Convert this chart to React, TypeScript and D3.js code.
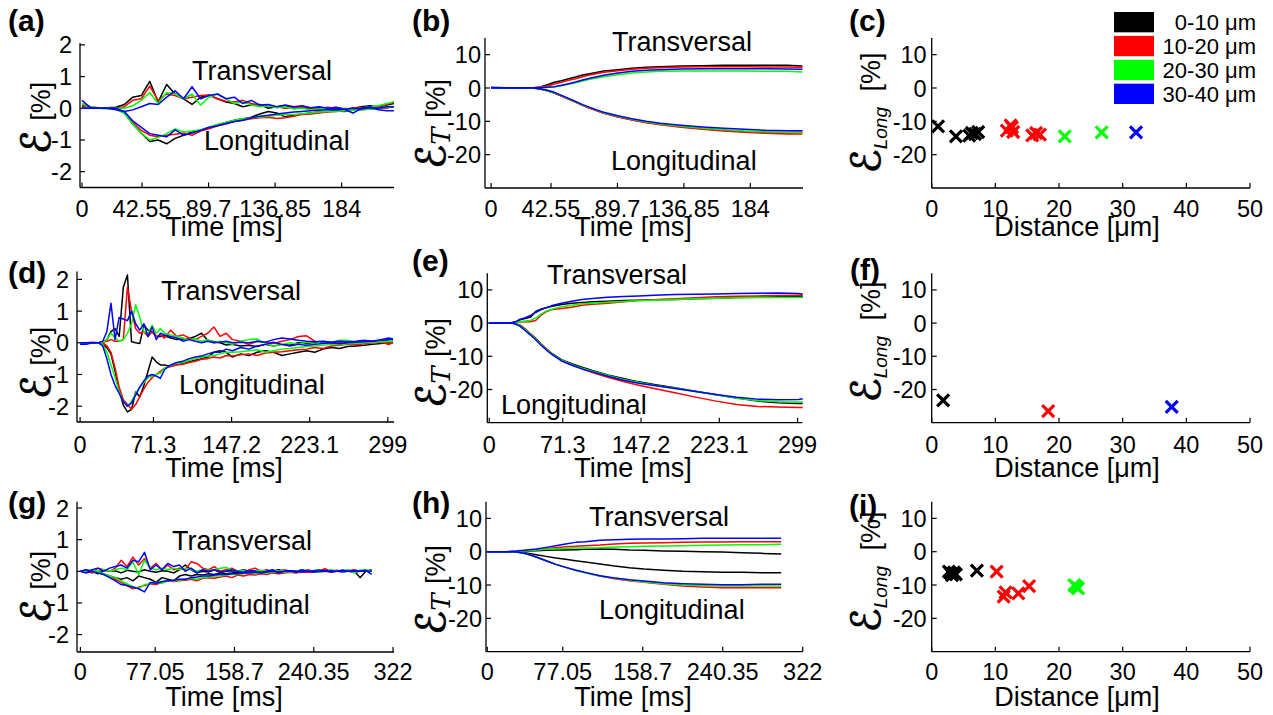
import React from "react";
import * as d3 from "d3";

const FONT = "'Liberation Sans', Arial, Helvetica, sans-serif";
const SERIF = "'DejaVu Serif', 'DejaVu Sans', serif";
const colors = ["#000000", "#ff0000", "#00ff00", "#0000ff"];
const binLabels = ["0-10 μm", "10-20 μm", "20-30 μm", "30-40 μm"];

// tick labels
const xTicksAB = ["0", "42.55", "89.7", "136.85", "184"];
const xTicksDE = ["0", "71.3", "147.2", "223.1", "299"];
const xTicksGH = ["0", "77.05", "158.7", "240.35", "322"];
const xTicksDist = ["0", "10", "20", "30", "40", "50"];
const yTicksSmall = ["2", "1", "0", "-1", "-2"];
const yTicksBig = ["10", "0", "-10", "-20"];

// ---- panel (a): strain rate, time in ms
const timeA = [0, 6, 12, 18, 24, 30, 36, 42, 48, 54, 60, 66, 72, 78, 84, 90, 96, 102, 108, 114, 120, 126, 132, 138, 144, 150, 156, 162, 168, 174, 180, 186, 192, 198, 204, 210, 216, 221];
const aTransK = [0.05, 0, 0, 0.02, 0.03, 0.12, 0.35, 0.4, 0.85, 0.2, 0.75, 0.45, 0.3, 0.12, 0.35, 0.42, 0.3, 0.2, 0.15, 0.05, 0.1, 0.12, 0, 0.05, 0.08, 0, 0.05, -0.03, 0.02, 0, 0.03, -0.02, 0, 0.05, 0.08, 0.05, 0.1, 0.15];
const aTransR = [0.1, 0.05, 0.02, 0, 0, 0.05, 0.25, 0.3, 0.7, 0.25, 0.45, 0.4, 0.3, 0.35, 0.4, 0.42, 0.3, 0.22, 0.2, 0.25, 0.15, 0.1, 0.08, 0.05, 0, 0.02, 0.05, 0, -0.02, 0.03, 0, -0.03, 0, 0.02, 0.05, 0.05, 0.12, 0.2];
const aTransG = [0.15, 0.05, 0, -0.02, 0, 0, 0.08, 0.25, 0.5, 0.15, 0.5, 0.45, 0.3, 0.45, 0.1, 0.35, 0.45, 0.3, 0.15, 0.2, 0.1, 0.05, 0.08, 0.02, 0.05, -0.02, 0, -0.05, -0.02, 0, -0.05, 0, -0.03, 0, 0.05, 0.08, 0.15, 0.2];
const aTransB = [0.25, 0.02, 0, 0, -0.05, -0.1, -0.05, 0.05, 0.15, 0.12, 0.35, 0.55, 0.3, 0.68, 0.3, 0.4, 0.45, 0.3, 0.35, 0.15, 0.25, 0.1, 0.12, 0.05, 0.1, 0.05, 0.08, 0.02, 0.05, 0, 0.02, -0.03, -0.15, 0, 0.05, -0.05, -0.08, -0.08];
const aLongK = [0, 0, 0, 0, -0.02, -0.15, -0.5, -0.78, -1.05, -1.0, -1.12, -0.95, -0.85, -0.75, -0.7, -0.62, -0.55, -0.45, -0.38, -0.33, -0.28, -0.18, -0.1, -0.15, -0.27, -0.22, -0.18, -0.15, -0.12, -0.1, -0.08, -0.1, -0.05, -0.03, -0.02, 0, 0.02, 0.05];
const aLongR = [0, 0, 0, 0, -0.02, -0.12, -0.45, -0.7, -0.85, -0.9, -0.85, -0.82, -0.78, -0.85, -0.72, -0.65, -0.55, -0.5, -0.42, -0.38, -0.33, -0.3, -0.28, -0.32, -0.3, -0.25, -0.2, -0.18, -0.15, -0.12, -0.1, -0.08, -0.05, -0.05, -0.02, 0, 0.02, 0.05];
const aLongG = [0, 0, 0, 0, -0.03, -0.15, -0.5, -0.78, -1.0, -0.92, -0.8, -0.65, -0.75, -0.72, -0.68, -0.6, -0.5, -0.45, -0.38, -0.33, -0.3, -0.28, -0.25, -0.22, -0.2, -0.2, -0.17, -0.15, -0.12, -0.1, -0.1, -0.08, -0.06, -0.05, -0.03, 0, 0.03, 0.05];
const aLongB = [0, 0, 0, 0, 0, -0.1, -0.4, -0.6, -0.8, -0.85, -0.9, -0.68, -0.85, -0.78, -0.7, -0.6, -0.55, -0.48, -0.42, -0.38, -0.3, -0.25, -0.22, -0.18, -0.15, -0.12, -0.1, -0.08, -0.06, -0.05, -0.05, -0.03, 0, -0.02, 0.02, 0, 0.05, 0.05];

// ---- panel (b): cumulative strain
const timeB = [0, 10, 20, 30, 35, 40, 45, 50, 55, 60, 65, 70, 80, 90, 100, 110, 120, 135, 150, 165, 180, 195, 210, 221];
const bTransK = [0, 0, 0, 0.1, 0.3, 1.0, 1.7, 2.2, 2.8, 3.3, 3.9, 4.3, 5.1, 5.5, 5.9, 6.2, 6.4, 6.6, 6.7, 6.8, 6.8, 6.8, 6.8, 6.6];
const bTransR = [0, 0, 0, 0.05, 0.2, 0.6, 1.2, 1.7, 2.3, 2.8, 3.4, 3.9, 4.7, 5.2, 5.6, 5.9, 6.1, 6.3, 6.4, 6.4, 6.4, 6.3, 6.3, 6.2];
const bTransG = [0, 0, 0, 0.05, 0.1, 0.2, 0.4, 0.7, 1.1, 1.6, 2.1, 2.6, 3.4, 4.0, 4.5, 4.8, 5.0, 5.1, 5.1, 5.1, 5.1, 5.0, 5.0, 4.8];
const bTransB = [0.2, 0.1, 0.1, 0.05, 0.1, 0.2, 0.4, 0.8, 1.3, 1.8, 2.4, 2.9, 3.8, 4.5, 5.0, 5.3, 5.5, 5.7, 5.8, 5.8, 5.8, 5.8, 5.7, 5.6];
const bLongK = [0, 0, 0, 0, -0.3, -0.8, -1.5, -2.4, -3.3, -4.2, -5.2, -6.0, -7.5, -8.6, -9.5, -10.3, -10.9, -11.6, -12.2, -12.7, -13.1, -13.3, -13.4, -13.3];
const bLongR = [0, 0, 0, 0, -0.3, -0.8, -1.5, -2.4, -3.3, -4.2, -5.2, -6.1, -7.6, -8.7, -9.6, -10.4, -11.0, -11.8, -12.4, -12.9, -13.3, -13.6, -13.8, -13.8];
const bLongG = [0, 0, 0, 0, -0.3, -0.8, -1.4, -2.3, -3.2, -4.1, -5.1, -5.9, -7.4, -8.5, -9.4, -10.2, -10.8, -11.5, -12.1, -12.5, -12.9, -13.2, -13.3, -13.3];
const bLongB = [0, 0, 0, 0, -0.3, -0.7, -1.3, -2.2, -3.1, -4.0, -5.0, -5.8, -7.3, -8.3, -9.2, -10.0, -10.6, -11.2, -11.7, -12.1, -12.4, -12.7, -12.8, -12.8];

// ---- panel (d)
const timeD = [0, 6, 12, 18, 22, 26, 30, 34, 38, 42, 46, 50, 54, 58, 62, 66, 70, 74, 78, 82, 88, 94, 100, 106, 112, 118, 124, 130, 136, 142, 148, 156, 164, 172, 180, 188, 196, 204, 212, 220, 228, 236, 244, 252, 260, 268, 276, 284, 292, 300, 304];
const dTransK = [0, 0, 0, 0, 0.02, 0.1, 0.35, 0.45, 0.2, 1.75, 2.14, 0.03, 0, -0.02, 0.56, 0.4, 0.35, 0.2, 0.2, 0.22, 0.15, 0.1, 0.12, 0.14, 0.2, 0.3, 0.08, 0.03, 0, -0.07, -0.05, -0.1, -0.08, -0.12, -0.05, -0.1, -0.05, -0.08, 0, -0.02, 0, 0.03, 0, -0.02, 0.02, 0, 0.03, 0.05, 0.05, 0.1, 0.1];
const dTransR = [0, 0, 0.02, 0, 0.02, 0.05, 0.1, 0.05, 0.05, 0.1, 1.75, 1.0, 0.45, 0.3, 0.35, 0.2, 0.35, 0.2, 0.25, 0.15, 0.4, 0.2, 0.25, 0.15, 0.1, 0.2, 0.3, 0.5, 0.2, 0.3, 0.1, 0.05, -0.05, 0.05, 0.02, -0.02, 0.05, 0.1, 0.2, 0.22, 0.05, 0, 0.02, 0, 0.03, 0.02, 0.05, 0, 0.05, -0.05, 0.05];
const dTransG = [0, 0, 0, 0, 0.02, 0.1, 0.3, 0.15, 0.05, 0.1, 0.3, 0.6, 1.2, 0.8, 0.35, 0.3, 0.55, 0.3, 0.45, 0.3, 0.25, 0.2, 0.15, 0.1, 0.12, 0.05, 0.1, 0, 0.05, 0, -0.05, 0.05, 0.1, 0.12, -0.02, -0.1, -0.05, 0, -0.05, 0.02, -0.02, 0.05, 0.02, 0.08, 0.08, 0.02, 0.05, 0.02, 0.05, 0.03, 0.05];
const dTransB = [-0.05, -0.05, 0, 0, 0.05, 0.35, 1.25, 0.1, 0.8, 0.75, 0.7, 1.0, 0.6, 0.4, 0.6, 0.2, 0.5, 0.1, 0.3, 0.25, 0.2, 0.15, 0.05, 0.1, 0.05, 0, 0.05, 0, 0.02, 0.05, 0, 0.02, 0, 0.05, 0.02, 0.1, 0.15, 0.12, 0.08, 0.05, 0.03, 0.05, 0.02, 0.05, 0.03, 0.05, 0.08, 0.05, 0.1, 0.15, 0.12];
const dLongK = [0, 0, 0, 0, -0.05, -0.15, -0.35, -0.9, -1.5, -1.97, -2.18, -2.1, -1.55, -1.7, -1.35, -0.9, -0.45, -0.6, -0.7, -0.7, -0.75, -0.68, -0.65, -0.6, -0.55, -0.5, -0.45, -0.3, -0.25, -0.3, -0.45, -0.35, -0.4, -0.3, -0.25, -0.3, -0.4, -0.35, -0.3, -0.25, -0.3, -0.2, -0.15, -0.18, -0.12, -0.1, -0.08, -0.05, -0.02, 0, 0];
const dLongR = [0, 0, 0, 0, 0, -0.1, -0.3, -0.8, -1.4, -1.8, -1.95, -2.1, -1.95, -1.7, -1.45, -1.25, -1.1, -1.0, -0.9, -0.8, -0.75, -0.7, -0.68, -0.62, -0.58, -0.52, -0.5, -0.45, -0.48, -0.4, -0.42, -0.38, -0.35, -0.4, -0.32, -0.3, -0.28, -0.25, -0.22, -0.2, -0.15, -0.18, -0.1, -0.08, -0.05, -0.06, -0.03, 0, 0.02, -0.05, 0];
const dLongG = [0, 0, 0, 0, -0.05, -0.3, -0.7, -1.1, -1.55, -1.85, -2.0, -1.85, -1.6, -1.4, -1.25, -1.1, -1.05, -1.0, -0.95, -0.8, -0.72, -0.65, -0.62, -0.55, -0.5, -0.45, -0.42, -0.4, -0.35, -0.3, -0.3, -0.28, -0.25, -0.22, -0.3, -0.25, -0.2, -0.18, -0.15, -0.12, -0.1, -0.08, -0.05, -0.06, -0.03, -0.02, 0, 0.02, 0.03, 0.05, 0.05];
const dLongB = [0, 0, 0, 0, -0.1, -0.5, -1.0, -1.35, -1.6, -1.85, -2.0, -1.9, -1.65, -1.4, -1.2, -1.05, -1.0, -1.05, -1.12, -0.85, -0.7, -0.62, -0.58, -0.5, -0.45, -0.42, -0.35, -0.3, -0.3, -0.2, -0.25, -0.15, -0.2, -0.1, -0.05, 0.02, -0.05, -0.1, -0.05, -0.08, -0.05, -0.02, 0, -0.03, 0, 0.02, 0.03, 0.05, 0.08, 0.1, 0.1];

// ---- panel (e)
const timeE = [0, 10, 20, 25, 30, 35, 40, 45, 50, 55, 60, 70, 80, 90, 100, 115, 130, 145, 160, 180, 200, 220, 240, 260, 280, 300, 304];
const eTransK = [0, 0, 0, 0.3, 1.0, 1.4, 1.8, 3.5, 4.2, 4.6, 5.0, 5.6, 6.0, 6.2, 6.4, 6.6, 6.8, 6.9, 7.0, 7.1, 7.3, 7.5, 7.7, 7.8, 7.9, 7.9, 7.9];
const eTransR = [0, 0, 0, 0.1, 0.3, 0.4, 0.4, 0.8, 2.3, 3.4, 4.0, 4.4, 4.8, 5.4, 5.7, 6.0, 6.4, 6.8, 7.0, 7.3, 7.6, 7.9, 8.1, 8.2, 8.3, 8.4, 8.4];
const eTransG = [0, 0, 0, 0.1, 0.4, 0.6, 0.8, 1.5, 2.6, 3.6, 4.1, 4.9, 5.4, 5.8, 6.0, 6.3, 6.5, 6.7, 6.9, 7.1, 7.3, 7.5, 7.6, 7.7, 7.7, 7.7, 7.7];
const eTransB = [0, 0, 0, 0.3, 1.2, 1.6, 2.3, 3.2, 4.0, 4.6, 5.2, 6.0, 6.6, 7.1, 7.4, 7.8, 8.0, 8.2, 8.4, 8.6, 8.7, 8.8, 8.9, 9.0, 9.1, 8.9, 8.7];
const eLongK = [0, 0, 0, -0.1, -0.6, -1.8, -3.2, -4.6, -6.2, -7.6, -9.0, -11.0, -12.2, -13.3, -14.3, -15.6, -16.7, -17.7, -18.5, -19.5, -20.5, -21.6, -22.6, -23.5, -24.0, -24.2, -24.2];
const eLongR = [0, 0, 0, -0.1, -0.7, -1.9, -3.3, -4.7, -6.3, -7.7, -9.1, -11.2, -12.6, -13.8, -14.9, -16.3, -17.6, -18.7, -19.7, -21.0, -22.3, -23.5, -24.5, -25.1, -25.3, -25.4, -25.4];
const eLongG = [0, 0, 0, -0.1, -0.8, -2.0, -3.4, -4.8, -6.4, -7.8, -9.1, -11.2, -12.5, -13.6, -14.5, -15.8, -17.0, -17.9, -18.7, -19.6, -20.6, -21.6, -22.6, -23.3, -23.7, -23.8, -23.8];
const eLongB = [0, 0, 0, -0.2, -1.0, -2.3, -3.6, -5.0, -6.6, -8.0, -9.3, -11.4, -12.7, -13.8, -14.7, -16.0, -17.2, -18.1, -18.8, -19.7, -20.6, -21.5, -22.3, -22.9, -23.1, -23.0, -22.8];

// ---- panel (g)
const timeG = [0, 6, 12, 18, 24, 30, 36, 42, 48, 54, 60, 66, 72, 78, 84, 90, 96, 102, 108, 114, 120, 126, 132, 138, 144, 150, 156, 162, 168, 174, 180, 186, 192, 198, 204, 210, 216, 222, 228, 234, 240, 246, 252, 258, 264, 270, 276, 282, 288, 294, 300];
const gTransK = [0, -0.05, 0, -0.08, 0.03, 0, 0.02, -0.05, 0.03, 0, -0.02, 0.05, 0, -0.03, 0.02, 0, -0.05, 0.05, 0.2, 0.05, -0.05, 0, -0.02, 0.05, -0.03, 0, 0.02, 0, 0.05, 0, 0.02, -0.02, 0.03, 0, 0.05, 0, 0.02, 0, 0.03, -0.02, 0.02, 0.05, 0, 0.02, 0, 0.03, 0, 0.02, -0.2, 0, 0.05];
const gTransR = [0, 0.05, -0.05, 0.1, 0.05, 0, 0.1, 0.35, 0.15, 0.45, 0.2, 0.4, 0.1, 0.25, 0.05, 0.2, 0.05, 0.1, 0.05, 0.3, 0.25, 0.1, 0.05, 0.15, 0, 0.05, 0.1, 0, -0.05, 0.05, 0.1, 0, 0.05, -0.05, 0, 0.05, 0, 0.02, -0.03, 0.05, 0, 0.02, 0.08, 0, 0.03, 0, 0.02, 0.05, 0, 0.02, 0];
const gTransG = [0, 0, 0.05, 0, 0.05, 0, 0.05, 0.1, 0.05, 0.3, -0.1, 0.35, 0.1, 0.05, 0.1, 0.05, 0.1, 0.05, 0.1, 0.05, 0, 0.05, 0.03, 0.05, 0.1, 0.12, 0.05, 0, 0.03, -0.05, 0, 0.03, 0, 0.05, 0, 0.03, -0.02, 0, 0.05, 0.02, 0, 0.03, 0, 0.05, 0, 0.02, 0.05, -0.05, 0.03, 0.05, 0];
const gTransB = [0, -0.05, 0.05, 0.1, 0, 0.1, 0.15, 0.2, 0.1, 0.35, 0.3, 0.6, 0.05, 0.2, 0.05, 0.25, 0.15, 0.2, 0, 0.1, -0.05, 0.05, 0, 0.05, -0.02, 0, 0.05, 0, -0.03, 0.02, 0, -0.05, 0, 0.05, -0.05, 0, 0.02, -0.03, 0.05, 0, -0.02, 0, 0.03, -0.02, 0, 0.03, 0, 0.02, 0, 0.03, -0.1];
const gLongK = [0, 0, -0.05, 0, -0.08, -0.15, -0.2, -0.25, -0.2, -0.3, -0.15, -0.2, -0.25, -0.35, -0.2, -0.25, -0.3, -0.15, -0.1, -0.15, -0.1, -0.12, -0.08, -0.1, -0.05, -0.08, -0.05, -0.03, -0.05, -0.02, -0.03, 0, -0.02, 0, -0.03, 0, -0.02, 0, 0.02, 0, -0.02, 0, 0.02, 0, 0, 0.02, 0, -0.02, 0, 0.02, 0];
const gLongR = [0, 0, 0, -0.05, -0.1, -0.15, -0.25, -0.35, -0.45, -0.55, -0.5, -0.45, -0.4, -0.42, -0.35, -0.3, -0.32, -0.3, -0.28, -0.25, -0.3, -0.22, -0.2, -0.22, -0.18, -0.15, -0.2, -0.12, -0.15, -0.1, -0.12, -0.08, -0.1, -0.05, -0.08, -0.05, -0.03, -0.05, -0.02, -0.03, 0, -0.02, 0, -0.03, 0, 0.02, 0, -0.02, 0, 0.02, 0];
const gLongG = [0, 0, 0, -0.03, -0.08, -0.15, -0.2, -0.3, -0.4, -0.48, -0.55, -0.42, -0.4, -0.35, -0.38, -0.3, -0.3, -0.28, -0.25, -0.22, -0.25, -0.2, -0.18, -0.15, -0.15, -0.12, -0.1, -0.1, -0.08, -0.05, -0.08, -0.05, -0.05, -0.03, -0.02, -0.03, 0, -0.02, 0, 0.02, 0, -0.02, 0, 0.02, 0, 0, 0.02, 0, 0.03, 0, 0.02];
const gLongB = [0, 0.05, 0, -0.05, -0.1, -0.2, -0.3, -0.42, -0.45, -0.5, -0.55, -0.65, -0.35, -0.38, -0.32, -0.3, -0.28, -0.25, -0.25, -0.2, -0.18, -0.15, -0.15, -0.12, -0.1, -0.1, -0.08, -0.08, -0.05, -0.05, -0.03, -0.05, -0.02, 0, -0.02, 0, 0.02, 0, -0.02, 0, 0.02, 0, 0, 0.02, 0, -0.02, 0, 0.02, 0, 0, 0];

// ---- panel (h)
const timeH = [0, 10, 20, 30, 40, 50, 60, 70, 80, 90, 100, 115, 130, 145, 160, 180, 200, 220, 240, 260, 280, 300];
const hTransK = [0, 0, 0, 0.05, 0.2, 0.3, 0.4, 0.5, 0.5, 0.6, 0.7, 0.8, 0.7, 0.5, 0.4, 0.2, 0.1, 0, -0.1, -0.3, -0.5, -0.7];
const hTransR = [0, 0, 0, 0.1, 0.3, 0.6, 0.9, 1.2, 1.5, 1.6, 1.8, 2.0, 2.3, 2.5, 2.6, 2.7, 2.8, 2.9, 2.9, 3.0, 3.0, 3.0];
const hTransG = [0, 0, 0, 0.1, 0.3, 0.5, 0.7, 0.9, 1.0, 1.1, 1.1, 1.2, 1.4, 1.5, 1.6, 1.7, 1.8, 1.9, 2.0, 2.1, 2.1, 2.2];
const hTransB = [0, 0, 0, 0.2, 0.5, 0.8, 1.3, 1.8, 2.3, 2.8, 3.0, 3.4, 3.6, 3.7, 3.8, 3.8, 3.9, 4.0, 4.0, 4.0, 4.0, 4.0];
const hLongK = [0, 0, 0, -0.1, -0.4, -0.9, -1.4, -1.9, -2.3, -2.7, -3.1, -3.7, -4.3, -4.8, -5.2, -5.6, -5.9, -6.0, -6.2, -6.2, -6.3, -6.3];
const hLongR = [0, 0, 0, -0.1, -0.6, -1.6, -2.7, -3.8, -4.7, -5.6, -6.3, -7.3, -8.1, -8.7, -9.2, -9.8, -10.3, -10.6, -10.8, -10.8, -10.8, -10.8];
const hLongG = [0, 0, 0, -0.1, -0.6, -1.6, -2.7, -3.8, -4.7, -5.6, -6.3, -7.3, -8.0, -8.6, -9.1, -9.6, -10.0, -10.2, -10.3, -10.3, -10.3, -10.3];
const hLongB = [0, 0, 0, -0.1, -0.6, -1.6, -2.7, -3.8, -4.7, -5.5, -6.2, -7.2, -7.9, -8.4, -8.8, -9.3, -9.6, -9.8, -9.9, -9.9, -9.8, -9.8];

// ---- scatter panels: distance [µm] vs longitudinal strain [%]
const cDist = [1.0, 3.8, 5.9, 6.3, 6.8, 7.3, 11.8, 12.4, 12.8, 12.6, 15.8, 16.4, 17.0, 20.9, 26.7, 32.1];
const cStrain = [-11.5, -14.5, -14.3, -13.5, -13.8, -13.2, -12.8, -11.2, -13.2, -11.8, -14.2, -13.5, -14.0, -14.5, -13.3, -13.3];
const fDist = [1.8, 18.3, 37.7];
const fStrain = [-23.3, -26.5, -25.2];
const iDist = [2.7, 3.2, 3.5, 3.8, 3.0, 7.1, 10.2, 11.3, 11.6, 13.6, 15.3, 22.4, 22.7, 23.0];
const iStrain = [-6.0, -7.0, -6.2, -6.8, -6.5, -5.7, -6.0, -13.5, -12.2, -12.5, -10.3, -10.0, -10.5, -11.0];

const TICK_FS = 23.5;
const TEXT_FS = 27;

const linePanels = [
  { id: "(a)", lab: [8, 31], x0: 80, x1: 394, yTop: 43, yBot: 187.5, xDom: [-1.4, 221.1], yDom: [-2.5, 2.06], xTicks: xTicksAB, yTicks: yTicksSmall, time: timeA, trans: [aTransK, aTransR, aTransG, aTransB], long: [aLongK, aLongR, aLongG, aLongB], tPos: [192, 80], lPos: [204, 150], tickBase: 217, titleBase: 236, titleX: 224, yLab: [50, 118], sub: "", gap: 8 },
  { id: "(b)", lab: [412, 31], x0: 485, x1: 803, yTop: 38, yBot: 188, xDom: [-4.3, 221.4], yDom: [-30, 15], xTicks: xTicksAB, yTicks: yTicksBig, time: timeB, trans: [bTransK, bTransR, bTransG, bTransB], long: [bLongK, bLongR, bLongG, bLongB], tPos: [612, 51], lPos: [611, 170], tickBase: 217, titleBase: 236, titleX: 633, yLab: [445, 124], sub: "T", gap: 4 },
  { id: "(d)", lab: [8, 283], x0: 77, x1: 394, yTop: 271.5, yBot: 422, xDom: [-3, 305], yDom: [-2.5, 2.25], xTicks: xTicksDE, yTicks: yTicksSmall, time: timeD, trans: [dTransK, dTransR, dTransG, dTransB], long: [dLongK, dLongR, dLongG, dLongB], tPos: [161, 300], lPos: [179, 393.5], tickBase: 453, titleBase: 477, titleX: 224, yLab: [50, 363], sub: "", gap: 8 },
  { id: "(e)", lab: [412, 271], x0: 487.3, x1: 802.3, yTop: 273.3, yBot: 422.7, xDom: [-1.9, 303.6], yDom: [-30, 15], xTicks: xTicksDE, yTicks: yTicksBig, time: timeE, trans: [eTransK, eTransR, eTransG, eTransB], long: [eLongK, eLongR, eLongG, eLongB], tPos: [547, 283.5], lPos: [501, 413.5], tickBase: 453, titleBase: 477, titleX: 633, yLab: [445, 363], sub: "T", gap: 4 },
  { id: "(g)", lab: [8, 513], x0: 77, x1: 394, yTop: 501.7, yBot: 652, xDom: [-3.5, 323], yDom: [-2.55, 2.2], xTicks: xTicksGH, yTicks: yTicksSmall, time: timeG, trans: [gTransK, gTransR, gTransG, gTransB], long: [gLongK, gLongR, gLongG, gLongB], tPos: [172, 550], lPos: [164, 613.5], tickBase: 680, titleBase: 706, titleX: 224, yLab: [50, 587], sub: "", gap: 8 },
  { id: "(h)", lab: [412, 513], x0: 486, x1: 802.7, yTop: 501.7, yBot: 651.7, xDom: [-1.3, 322], yDom: [-30, 15], xTicks: xTicksGH, yTicks: yTicksBig, time: timeH, trans: [hTransK, hTransR, hTransG, hTransB], long: [hLongK, hLongR, hLongG, hLongB], tPos: [589, 526], lPos: [599, 618.5], tickBase: 680, titleBase: 706, titleX: 633, yLab: [445, 590], sub: "T", gap: 4 },
];

const scatterPanels = [
  { id: "(c)", lab: [849, 31], yTop: 38, yBot: 188, dist: cDist, strain: cStrain, tickBase: 217, titleBase: 236, yLab: [880, 113], legend: true },
  { id: "(f)", lab: [850, 280], yTop: 273.3, yBot: 422.7, dist: fDist, strain: fStrain, tickBase: 453, titleBase: 477, yLab: [880, 342], legend: false },
  { id: "(i)", lab: [849, 516], yTop: 501.7, yBot: 651.7, dist: iDist, strain: iStrain, tickBase: 680, titleBase: 706, yLab: [880, 572], legend: false },
];

const YLabel = ({ x, y, sub }: { x: number; y: number; sub: string }) => (
  <text transform={`translate(${x},${y}) rotate(-90)`} textAnchor="middle" fontFamily={FONT} fontSize={TEXT_FS}>
    <tspan fontFamily={SERIF} fontSize={40} stroke="#000" strokeWidth={0.9}>ℰ</tspan>
    {sub === "T" && (
      <tspan fontFamily={SERIF} fontStyle="italic" fontSize={26} dy={5}>T</tspan>
    )}
    {sub === "Long" && (
      <tspan fontStyle="italic" fontSize={19} dy={7}>Long</tspan>
    )}
    <tspan dy={sub ? (sub === "T" ? -5 : -7) : 0} dx={sub === "Long" ? 8 : 2}> [%]</tspan>
  </text>
);

const Axes = ({ x, y, xTicks, yTicks, tickBase, gap }: any) => {
  const [x0, x1] = x.range();
  const [yBot, yTop] = y.range();
  return (
    <g>
      <line x1={x0} x2={x1} y1={yBot} y2={yBot} stroke="#000" strokeWidth={1.3} />
      <line x1={x0} x2={x0} y1={yBot} y2={yTop} stroke="#000" strokeWidth={1.3} />
      {xTicks.map((t: string) => (
        <g key={"x" + t}>
          <line x1={x(+t)} x2={x(+t)} y1={yBot} y2={yBot - 5} stroke="#000" strokeWidth={1.2} />
          <text x={x(+t)} y={tickBase} textAnchor="middle" fontSize={TICK_FS} fontFamily={FONT}>{t}</text>
        </g>
      ))}
      {yTicks.map((t: string) => (
        <g key={"y" + t}>
          <line x1={x0} x2={x0 + 5} y1={y(+t)} y2={y(+t)} stroke="#000" strokeWidth={1.2} />
          <text x={x0 - gap} y={y(+t) + 8.5} textAnchor="end" fontSize={TICK_FS} fontFamily={FONT}>{t}</text>
        </g>
      ))}
    </g>
  );
};

const LinePanel = ({ p }: any) => {
  const x = d3.scaleLinear().domain(p.xDom).range([p.x0, p.x1]);
  const y = d3.scaleLinear().domain(p.yDom).range([p.yBot, p.yTop]);
  const line = d3
    .line<number>()
    .x((_, i) => x(p.time[i]))
    .y((d) => y(d));
  return (
    <g>
      <Axes x={x} y={y} xTicks={p.xTicks} yTicks={p.yTicks} tickBase={p.tickBase} gap={p.gap} />
      {colors.map((c, k) => (
        <g key={c}>
          <path d={line(p.trans[k]) || ""} fill="none" stroke={c} strokeWidth={1.5} strokeLinejoin="round" />
          <path d={line(p.long[k]) || ""} fill="none" stroke={c} strokeWidth={1.5} strokeLinejoin="round" />
        </g>
      ))}
      <text x={p.tPos[0]} y={p.tPos[1]} fontSize={TEXT_FS} fontFamily={FONT}>Transversal</text>
      <text x={p.lPos[0]} y={p.lPos[1]} fontSize={TEXT_FS} fontFamily={FONT}>Longitudinal</text>
      <text x={p.titleX} y={p.titleBase} textAnchor="middle" fontSize={TEXT_FS} fontFamily={FONT}>Time [ms]</text>
      <YLabel x={p.yLab[0]} y={p.yLab[1]} sub={p.sub} />
      <text x={p.lab[0]} y={p.lab[1]} fontSize={30} fontWeight="bold" fontFamily={FONT}>{p.id}</text>
    </g>
  );
};

const ScatterPanel = ({ p }: any) => {
  const x = d3.scaleLinear().domain([0, 50]).range([931.7, 1250]);
  const y = d3.scaleLinear().domain([-30, 15]).range([p.yBot, p.yTop]);
  const legendY = d3.scaleBand<number>().domain([0, 1, 2, 3]).range([12, 104]).paddingInner(0.15);
  return (
    <g>
      <Axes x={x} y={y} xTicks={xTicksDist} yTicks={yTicksBig} tickBase={p.tickBase} gap={5} />
      {p.dist.map((d: number, i: number) => {
        const c = colors[Math.min(3, Math.floor(d / 10))];
        const cx = x(d);
        const cy = y(p.strain[i]);
        return (
          <path key={i} d={`M${cx - 6},${cy - 6}L${cx + 6},${cy + 6}M${cx - 6},${cy + 6}L${cx + 6},${cy - 6}`} stroke={c} strokeWidth={3.2} fill="none" />
        );
      })}
      <text x={1077} y={p.titleBase} textAnchor="middle" fontSize={TEXT_FS} fontFamily={FONT}>Distance [μm]</text>
      <YLabel x={p.yLab[0]} y={p.yLab[1]} sub="Long" />
      <text x={p.lab[0]} y={p.lab[1]} fontSize={30} fontWeight="bold" fontFamily={FONT}>{p.id}</text>
      {p.legend &&
        binLabels.map((b, k) => (
          <g key={b}>
            <rect x={1114} y={legendY(k)} width={40} height={legendY.bandwidth()} fill={colors[k]} />
            <text x={1256} y={(legendY(k) || 0) + legendY.bandwidth() - 2} textAnchor="end" fontSize={22} fontFamily={FONT}>{b}</text>
          </g>
        ))}
    </g>
  );
};

export default function App() {
  return (
    <svg width={1273} height={715} style={{ position: "absolute", left: 0, top: 0, background: "#fff" }}>
      {linePanels.map((p) => (
        <LinePanel key={p.id} p={p} />
      ))}
      {scatterPanels.map((p) => (
        <ScatterPanel key={p.id} p={p} />
      ))}
    </svg>
  );
}
